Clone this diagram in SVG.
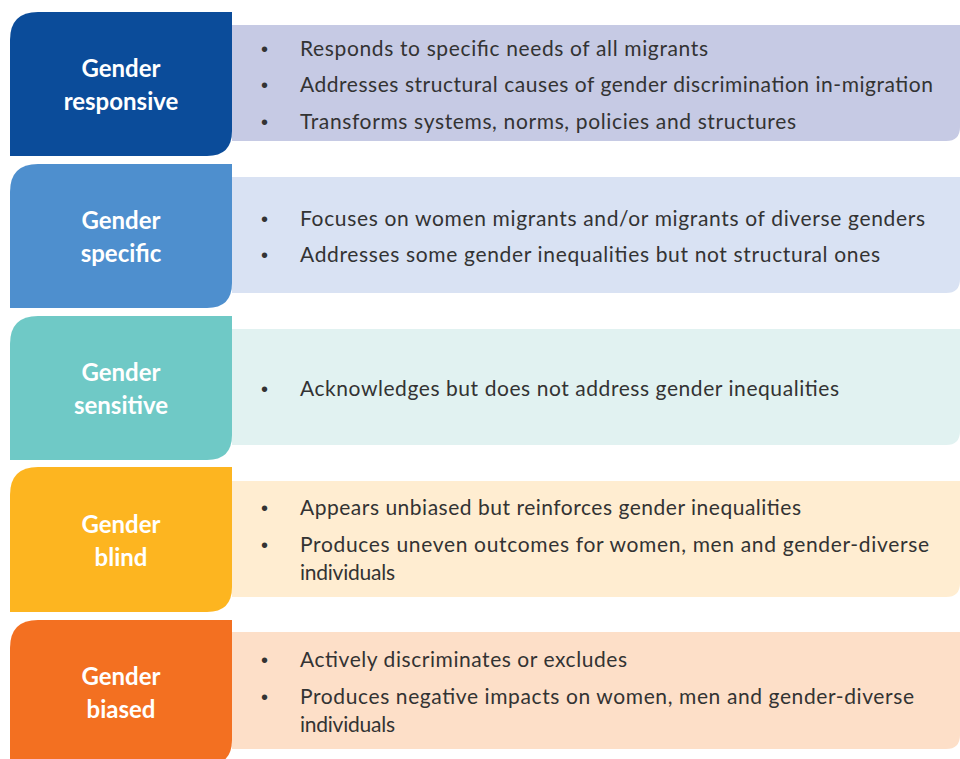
<svg xmlns="http://www.w3.org/2000/svg" width="960" height="759" viewBox="0 0 960 759">
<style>
.lbl{font-family:Lato,"Open Sans","Liberation Sans",sans-serif;font-weight:bold;font-size:24px;fill:#ffffff;text-anchor:middle}
.txt{font-family:Lato,"Open Sans","Liberation Sans",sans-serif;font-size:21px;fill:#333333}
.bul{font-family:"Liberation Sans",sans-serif;font-size:20px;fill:#333333}
</style>
<rect width="960" height="759" fill="#ffffff"/>

<g id="responsive">
<path d="M232,25 H960 V127 Q960,141 946,141 H232 Z" fill="#C6CAE4"/>
<path d="M10,40 Q10,12 38,12 H232 V131 Q232,156 207,156 H10 Z" fill="#0B4C9A"/>
<text class="lbl" x="121" y="77">Gender</text>
<text class="lbl" x="121" y="110">responsive</text>
<text class="bul" x="261" y="56">•</text>
<text class="txt" x="300" y="56" textLength="408" lengthAdjust="spacing">Responds to specific needs of all migrants</text>
<text class="bul" x="261" y="92">•</text>
<text class="txt" x="300" y="92" textLength="633" lengthAdjust="spacing">Addresses structural causes of gender discrimination in-migration</text>
<text class="bul" x="261" y="129">•</text>
<text class="txt" x="300" y="129" textLength="496" lengthAdjust="spacing">Transforms systems, norms, policies and structures</text>
</g>

<g id="specific">
<path d="M232,177 H960 V279 Q960,293 946,293 H232 Z" fill="#D9E2F3"/>
<path d="M10,192 Q10,164 38,164 H232 V283 Q232,308 207,308 H10 Z" fill="#4E8FCE"/>
<text class="lbl" x="121" y="229">Gender</text>
<text class="lbl" x="121" y="262">specific</text>
<text class="bul" x="261" y="226">•</text>
<text class="txt" x="300" y="226" textLength="625" lengthAdjust="spacing">Focuses on women migrants and/or migrants of diverse genders</text>
<text class="bul" x="261" y="262">•</text>
<text class="txt" x="300" y="262" textLength="580" lengthAdjust="spacing">Addresses some gender inequalities but not structural ones</text>
</g>

<g id="sensitive">
<path d="M232,329 H960 V431 Q960,445 946,445 H232 Z" fill="#E1F2F1"/>
<path d="M10,344 Q10,316 38,316 H232 V435 Q232,460 207,460 H10 Z" fill="#6FC9C6"/>
<text class="lbl" x="121" y="381">Gender</text>
<text class="lbl" x="121" y="414">sensitive</text>
<text class="bul" x="261" y="396">•</text>
<text class="txt" x="300" y="396" textLength="539" lengthAdjust="spacing">Acknowledges but does not address gender inequalities</text>
</g>

<g id="blind">
<path d="M232,481 H960 V583 Q960,597 946,597 H232 Z" fill="#FFEDD1"/>
<path d="M10,495 Q10,467 38,467 H232 V587 Q232,612 207,612 H10 Z" fill="#FDB520"/>
<text class="lbl" x="121" y="533">Gender</text>
<text class="lbl" x="121" y="566">blind</text>
<text class="bul" x="261" y="515">•</text>
<text class="txt" x="300" y="515" textLength="501" lengthAdjust="spacing">Appears unbiased but reinforces gender inequalities</text>
<text class="bul" x="261" y="552">•</text>
<text class="txt" x="300" y="552" textLength="629" lengthAdjust="spacing">Produces uneven outcomes for women, men and gender-diverse</text>
<text class="txt" x="300" y="580" textLength="95" lengthAdjust="spacing">individuals</text>
</g>

<g id="biased">
<path d="M232,632 H960 V735 Q960,749 946,749 H232 Z" fill="#FDDFC8"/>
<path d="M10,648 Q10,620 38,620 H232 V740 Q232,765 207,765 H10 Z" fill="#F37021"/>
<text class="lbl" x="121" y="685">Gender</text>
<text class="lbl" x="121" y="718">biased</text>
<text class="bul" x="261" y="667">•</text>
<text class="txt" x="300" y="667" textLength="327" lengthAdjust="spacing">Actively discriminates or excludes</text>
<text class="bul" x="261" y="704">•</text>
<text class="txt" x="300" y="704" textLength="614" lengthAdjust="spacing">Produces negative impacts on women, men and gender-diverse</text>
<text class="txt" x="300" y="732" textLength="95" lengthAdjust="spacing">individuals</text>
</g>

<g id="connectors"></g>
</svg>
